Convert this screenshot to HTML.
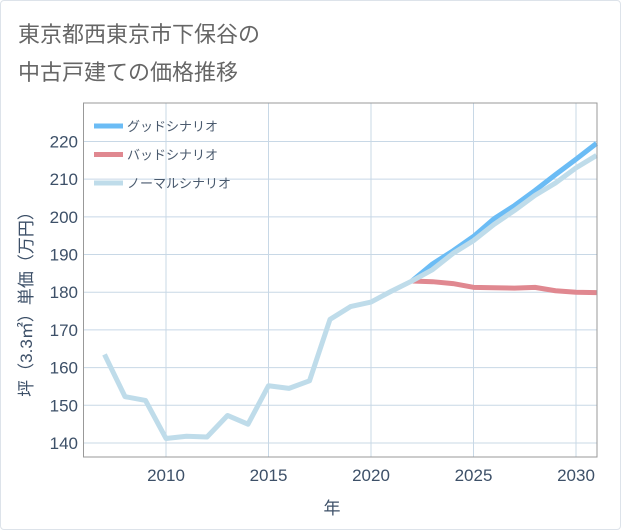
<!DOCTYPE html>
<html><head><meta charset="utf-8"><style>
body{margin:0;background:#fff;}
#card{position:absolute;left:0;top:0;width:619px;height:528px;border:1px solid #dde3ea;border-radius:4px;background:#fff;}
</style></head><body>
<div id="card">
<svg id="chart" width="621" height="530" style="position:absolute;left:-1px;top:-1px;font-family:'Liberation Sans','Noto Sans CJK JP',sans-serif">
<text x="18" y="42" font-size="22" fill="#666">東京都西東京市下保谷の</text>
<text x="18" y="80" font-size="22" fill="#666">中古戸建ての価格推移</text>
<g id="grid"></g><g id="series"></g><g id="axes"></g>
</svg>
</div>
<script>
const years=[2007,2008,2009,2010,2011,2012,2013,2014,2015,2016,2017,2018,2019,2020,2021,2022,2023,2024,2025,2026,2027,2028,2029,2030,2031];
const normalValues=[163.5,152.3,151.3,141.2,141.8,141.6,147.3,145,155.2,154.5,156.5,172.8,176.2,177.4,180.3,183,186,190.3,193.7,198,201.7,205.7,209,213,216.3];
const goodYears=[2022,2023,2024,2025,2026,2027,2028,2029,2030,2031];
const goodValues=[183,187.5,191,194.8,199.5,203,207,211.2,215.3,219.5];
const badYears=[2022,2023,2024,2025,2026,2027,2028,2029,2030,2031];
const badValues=[183,182.8,182.3,181.3,181.2,181.1,181.3,180.4,180.0,179.9];
const yTicks=[140,150,160,170,180,190,200,210,220];
const xTicks=[2010,2015,2020,2025,2030];
const L=83.5,R=597,T=103,B=457;
const xs=y=>166+(y-2010)*20.5;
const ys=v=>443-(v-140)*3.7688;
const NS='http://www.w3.org/2000/svg';
function mk(tag,attrs,parent){const e=document.createElementNS(NS,tag);for(const k in attrs)e.setAttribute(k,attrs[k]);parent.appendChild(e);return e;}
const grid=document.getElementById('grid'),ser=document.getElementById('series'),ax=document.getElementById('axes');
yTicks.forEach(v=>{
 const l=mk('line',{x1:L,x2:R,y1:ys(v),y2:ys(v),stroke:'#c8d8e6','stroke-width':1},grid);
 
 
 const t=mk('text',{x:78,y:ys(v)+6,'text-anchor':'end','font-size':17,fill:'#3d5068'},ax);
 t.textContent=v;
 
 
});
xTicks.forEach(v=>{
 const l=mk('line',{x1:xs(v),x2:xs(v),y1:T,y2:B,stroke:'#c8d8e6','stroke-width':1},grid);
 
 
 const t=mk('text',{x:xs(v),y:481,'text-anchor':'middle','font-size':17,fill:'#3d5068'},ax);
 t.textContent=v;
 
 
});
const frame=mk('rect',{x:L,y:T,width:R-L,height:B-T,fill:'none',stroke:'#999','stroke-width':1},ax);


const xt=mk('text',{x:332,y:514,'text-anchor':'middle','font-size':17,fill:'#3d5068'},ax);
xt.textContent='年';


const yt=mk('text',{x:0,y:0,'text-anchor':'middle','font-size':17,fill:'#3d5068',transform:'translate(32,300) rotate(-90)'},ax);
yt.textContent='坪（3.3㎡）単価（万円）';


function line(xv,yv,color,name){
 const p=mk('polyline',{points:xv.map((x,i)=>xs(x)+','+ys(yv[i])).join(' '),fill:'none',stroke:color,'stroke-width':5,'stroke-linejoin':'round'},ser);
 
 
}
line(badYears,badValues,'#e08890','bad-scenario-line');
line(goodYears,goodValues,'#6bbcf5','good-scenario-line');
line(years,normalValues,'#bfdcea','normal-scenario-line');
const leg=[['グッドシナリオ','#6bbcf5','legend-good'],['バッドシナリオ','#e08890','legend-bad'],['ノーマルシナリオ','#bfdcea','legend-normal']];
leg.forEach((d,i)=>{
 const y=126+i*28.5;
 const l=mk('line',{x1:94,x2:123,y1:y,y2:y,stroke:d[1],'stroke-width':5},ax);
 
 
 const t=mk('text',{x:127,y:y+5,'font-size':13,fill:'#4a5a6e'},ax);
 t.textContent=d[0];
 
 
});
</script>
</body></html>
